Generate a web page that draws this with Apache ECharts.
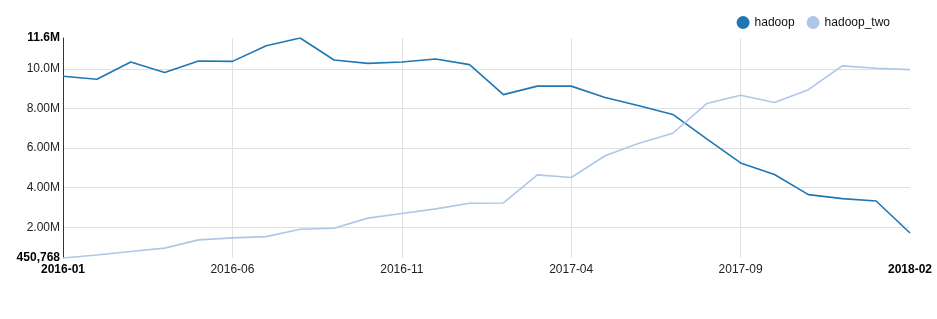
<!DOCTYPE html>
<html>
<head>
<meta charset="utf-8">
<script src="https://cdn.jsdelivr.net/npm/echarts@6/dist/echarts.min.js"></script>
<style>html,body{margin:0;padding:0;background:#fff}#c{width:937px;height:319px}</style>
</head>
<body>
<div id="c"></div>
<script>
const months = ["2016-01","2016-02","2016-03","2016-04","2016-05","2016-06","2016-07","2016-08","2016-09","2016-10","2016-11","2016-12","2017-01","2017-02","2017-03","2017-04","2017-05","2017-06","2017-07","2017-08","2017-09","2017-10","2017-11","2017-12","2018-01","2018-02"];
const hadoop = [9630000,9480000,10350000,9815000,10400000,10380000,11165000,11560000,10450000,10280000,10350000,10500000,10215000,8700000,9130000,9130000,8560000,8140000,7700000,6470000,5250000,4665000,3650000,3450000,3330000,1715000];
const hadoopTwo = [450768,600000,775000,950000,1365000,1465000,1530000,1900000,1950000,2465000,2700000,2930000,3215000,3230000,4650000,4515000,5615000,6250000,6750000,8250000,8665000,8300000,8950000,10150000,10030000,9965000];
const yMin = 450768;
const yMax = 11560000;
const yTicks = [2000000,4000000,6000000,8000000,10000000];
const yLabelValues = [yMin].concat(yTicks, [yMax]);

function fmtY(v){
  if (Math.abs(v - yMin) < 1) return v.toLocaleString('en-US');
  return (v/1e6).toPrecision(3) + 'M';
}

const chart = echarts.init(document.getElementById('c'));
chart.setOption({
  animation:false,
  color:['#1f77b4','#aec7e8'],
  textStyle:{fontFamily:'Liberation Sans, Arial, sans-serif'},
  legend:{
    top:11, right:42, icon:'circle', itemWidth:13, itemHeight:13, itemGap:12,
    textStyle:{fontSize:12,color:'#111'},
    data:['hadoop','hadoop_two']
  },
  grid:{left:63,right:27,top:38,bottom:61,containLabel:false},
  xAxis:{
    type:'category', data:months, boundaryGap:false,
    axisLine:{show:false}, axisTick:{show:false},
    axisLabel:{
      interval:4, margin:6, fontSize:12, color:'#222',
      formatter:function(v,i){ return (i===0||i===months.length-1)?'{b|'+v+'}':v; },
      rich:{b:{fontWeight:'bold',fontSize:12,color:'#000'}}
    },
    splitLine:{show:true, interval:function(i){return i%5===0 && i>0 && i<months.length-1;}, lineStyle:{color:'#e0e0e0',width:1}}
  },
  yAxis:{
    type:'value', min:yMin, max:yMax,
    axisLine:{show:true,lineStyle:{color:'#333',width:1}},
    axisTick:{show:false, customValues:yTicks},
    axisLabel:{
      customValues:yLabelValues, margin:3, fontSize:12, color:'#222',
      formatter:function(v){
        const s = fmtY(v);
        return (Math.abs(v-yMin)<1 || Math.abs(v-yMax)<1) ? '{b|'+s+'}' : s;
      },
      rich:{b:{fontWeight:'bold',fontSize:12,color:'#000'}}
    },
    splitLine:{show:true,lineStyle:{color:'#e0e0e0',width:1}}
  },
  series:[
    {name:'hadoop',type:'line',data:hadoop,symbol:'none',lineStyle:{width:1.6,color:'#1f77b4'},itemStyle:{color:'#1f77b4'}},
    {name:'hadoop_two',type:'line',data:hadoopTwo,symbol:'none',lineStyle:{width:1.6,color:'#aec7e8'},itemStyle:{color:'#aec7e8'}}
  ]
});
</script>
</body>
</html>
